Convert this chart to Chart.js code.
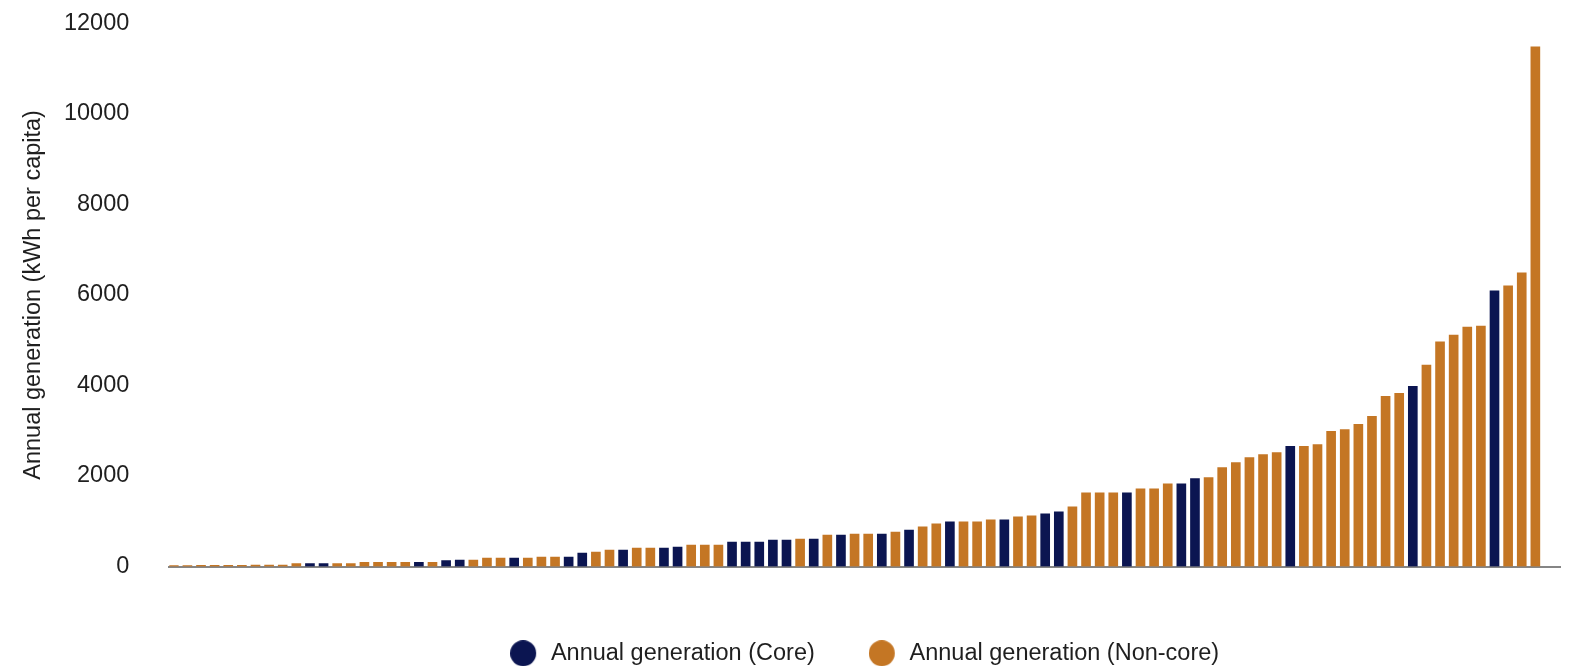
<!DOCTYPE html>
<html>
<head>
<meta charset="utf-8">
<script src="https://cdn.jsdelivr.net/npm/chart.js@4.4.0/dist/chart.umd.min.js"></script>
<style>
  html, body { margin: 0; padding: 0; background: #ffffff; }
  #wrap { width: 1575px; height: 667px; position: relative; }
</style>
</head>
<body>
<div id="wrap"><canvas id="chart" width="1575" height="667"></canvas></div>
<script>
// ---- Data (sorted ascending) ----
const ranks = [
  1,2,3,4,5,6,7,8,9,10,11,12,13,14,15,16,17,18,19,20,
  21,22,23,24,25,26,27,28,29,30,31,32,33,34,35,36,37,38,39,40,
  41,42,43,44,45,46,47,48,49,50,51,52,53,54,55,56,57,58,59,60,
  61,62,63,64,65,66,67,68,69,70,71,72,73,74,75,76,77,78,79,80,
  81,82,83,84,85,86,87,88,89,90,91,92,93,94,95,96,97,98,99,100,101
];
const generation = [
  20, 20, 25, 25, 25, 25, 30, 30, 30, 65,
  65, 65, 65, 65, 90, 90, 90, 90, 90, 90,
  130, 140, 140, 185, 185, 185, 185, 207, 207, 207,
  296, 318, 362, 362, 407, 407, 407, 430, 474, 474,
  474, 540, 540, 540, 585, 585, 607, 607, 696, 696,
  718, 718, 718, 763, 807, 874, 940, 985, 985, 985,
  1030, 1030, 1096, 1118, 1163, 1207, 1318, 1629, 1629, 1629,
  1629, 1718, 1718, 1829, 1829, 1940, 1962, 2185, 2296, 2407,
  2474, 2518, 2652, 2652, 2696, 2985, 3022, 3139, 3318, 3762,
  3824, 3980, 4448, 4962, 5110, 5289, 5312, 6091, 6200, 6488,
  11480
];
// C = Core, N = Non-core
const group = [
  'N','N','N','N','N','N','N','N','N','N',
  'C','C','N','N','N','N','N','N','C','N',
  'C','C','N','N','N','C','N','N','N','C',
  'C','N','N','C','N','N','C','C','N','N',
  'N','C','C','C','C','C','N','C','N','C',
  'N','N','C','N','C','N','N','C','N','N',
  'N','C','N','N','C','C','N','N','N','N',
  'C','N','N','N','C','C','N','N','N','N',
  'N','N','C','N','N','N','N','N','N','N',
  'N','C','N','N','N','N','N','C','N','N',
  'N'
];
const yTicks = [0, 2000, 4000, 6000, 8000, 10000, 12000];
const seriesNames = ['Annual generation (Core)', 'Annual generation (Non-core)'];
const seriesKeys = ['C', 'N'];
const seriesColors = ['#0b1551', '#c47624'];
const yTitle = 'Annual generation (kWh per capita)';

// ---- Build datasets ----
function pointsFor(key) {
  const pts = [];
  for (let i = 0; i < generation.length; i++) {
    if (group[i] === key) pts.push({ x: ranks[i], y: generation[i] });
  }
  return pts;
}

function makeDot(color) {
  const c = document.createElement('canvas');
  c.width = 29; c.height = 26;
  const g = c.getContext('2d');
  g.fillStyle = color;
  g.beginPath();
  g.arc(13, 13, 13, 0, Math.PI * 2);
  g.fill();
  return c;
}

const FONT = "'Liberation Sans', Arial, sans-serif";
const TEXT = '#1f1f1f';

const datasets = seriesKeys.map((k, i) => ({
  label: seriesNames[i],
  data: pointsFor(k),
  backgroundColor: seriesColors[i],
  borderWidth: 0,
  grouped: false,
  barThickness: 9
}));

new Chart(document.getElementById('chart'), {
  type: 'bar',
  data: { datasets },
  options: {
    responsive: false,
    animation: false,
    devicePixelRatio: 1,
    layout: { padding: { top: 23.3, right: 15, left: 0, bottom: -8 } },
    plugins: {
      tooltip: { enabled: false },
      legend: {
        position: 'bottom',
        align: 'center',
        fullSize: false,
        labels: {
          usePointStyle: true,
          pointStyleWidth: 29,
          padding: 54,
          color: TEXT,
          font: { family: FONT, size: 23.5 },
          generateLabels(chart) {
            const items = Chart.defaults.plugins.legend.labels.generateLabels(chart);
            items.forEach(it => { it.pointStyle = makeDot(seriesColors[it.datasetIndex]); });
            return items;
          }
        }
      }
    },
    scales: {
      x: {
        type: 'linear',
        min: 0.67,
        max: 102.81,
        offset: false,
        grid: { display: false },
        ticks: { display: false },
        border: { display: true, color: '#858585', width: 2 },
        afterFit(s) { s.height = 21; s.paddingLeft = 0; s.paddingRight = 0; }
      },
      y: {
        min: 0,
        max: 12000,
        afterBuildTicks(s) { s.ticks = yTicks.map(v => ({ value: v })); },
        grid: { display: false },
        border: { display: false },
        ticks: {
          padding: 32,
          color: TEXT,
          font: { family: FONT, size: 23.5 },
          callback: v => String(v)
        },
        title: {
          display: true,
          text: yTitle,
          color: TEXT,
          font: { family: FONT, size: 23.5 },
          padding: { top: 19, bottom: 0 }
        },
        afterFit(s) { s.width = 169.3; s.paddingTop = 0; s.paddingBottom = 0; }
      }
    }
  }
});
</script>
</body>
</html>
